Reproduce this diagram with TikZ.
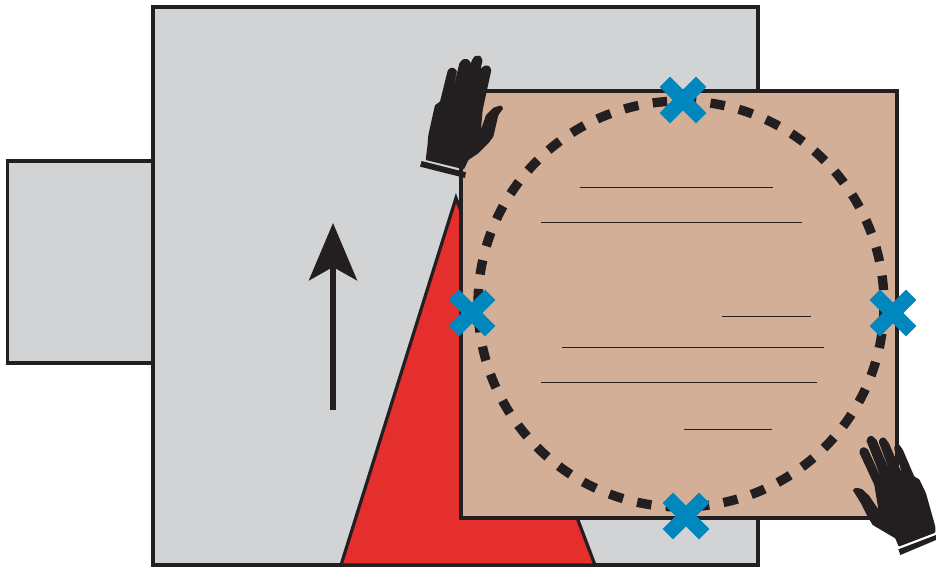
\documentclass[tikz,border=0pt]{standalone}
\usepackage{tikz}
\usetikzlibrary{arrows.meta}
\definecolor{plategray}{RGB}{209,211,212}
\definecolor{sheettan}{RGB}{211,175,151}
\definecolor{bladered}{RGB}{228,47,44}
\definecolor{inkblack}{RGB}{35,31,32}
\definecolor{markblue}{RGB}{0,135,189}
\tikzset{
    plate/.style={draw=inkblack, fill=plategray, line width=2.4pt},
    sheet/.style={draw=inkblack, fill=sheettan, line width=2.4pt},
    blade/.style={draw=inkblack, fill=bladered, line width=2.4pt, miter limit=10},
    feed/.style={-{Stealth[length=43pt, width=36pt, inset=10pt]}, line width=4.2pt, draw=inkblack},
    cutcircle/.style={draw=inkblack, line width=7pt, dash pattern=on 10.9pt off 10.84pt, dash phase=21.18pt},
    textline/.style={draw=inkblack, line width=0.75pt},
    markcross/.style={draw=markblue, line width=11pt},
    glove/.style={fill=inkblack, rounded corners=0.7pt}
}
\begin{document}
\begin{tikzpicture}[x=0.75pt, y=-0.75pt]
    \useasboundingbox (0,0) rectangle (936,567);
    % plates
    \draw[plate] (7.5,161) rectangle (153,363);
    \draw[plate] (153,7) rectangle (758,565);
    \draw[blade] (341,565) -- (456,198) -- (595,565) -- cycle;
    % feed direction
    \coordinate (feedstart) at (333,410);
    \coordinate (feedend) at (333,223);
    \draw[feed] (feedstart) -- (feedend);
    % sheet on top
    \draw[sheet] (461,91) rectangle (897,518);
    \draw[cutcircle] (681,304) circle (203);
    \foreach \xa/\xb/\ya in {580/773/187, 541/802/222, 722/811/316, 562/824/347, 541/817/382, 684/772/429}
      \draw[textline] (\xa,\ya) -- (\xb,\ya);
    % crosses
    \foreach \cx/\cy in {683/100, 472/313, 893/313, 686/516} {
      \draw[markcross] (\cx-18.2,\cy-18.2) -- (\cx+18.2,\cy+18.2);
      \draw[markcross] (\cx-18.2,\cy+18.2) -- (\cx+18.2,\cy-18.2);
    }
    % left hand
    \begin{scope}[shift={(400,40)}, scale=1/3]
      \fill[glove] (77,360) -- (82,320) -- (85,285) -- (105,195) -- (120,185) -- (143,92) -- (150,84) -- (160,83) -- (171,92)
        -- (152,180) -- (178,70) -- (188,58) -- (203,57) -- (213,68) -- (190,165) -- (215,62) -- (224,48) -- (240,47) -- (248,60)
        -- (220,185) -- (243,85) -- (255,76) -- (268,78) -- (274,90) -- (248,210) -- (243,268) -- (258,225) -- (280,203)
        -- (303,196) -- (310,205) -- (295,225) -- (280,290) -- (265,310) -- (235,340) -- (205,360) -- (192,388) -- cycle;
      \fill[inkblack] (65,363) -- (198,397) -- (195,414) -- (60,380) -- cycle;
    \end{scope}
    % right hand
    \begin{scope}[shift={(836,420)}, scale=1/3]
      \fill[glove] (50,210) -- (60,203) -- (78,207) -- (100,228) -- (127,268) -- (115,195) -- (70,98) -- (72,87) -- (83,81) -- (96,88)
        -- (140,185) -- (91,62) -- (97,50) -- (108,47) -- (122,60) -- (168,172) -- (128,65) -- (134,54) -- (145,52) -- (158,68)
        -- (200,165) -- (174,85) -- (178,75) -- (188,72) -- (200,88) -- (235,170) -- (250,178) -- (270,220) -- (298,320)
        -- (298,338) -- (188,380) -- (178,355) -- (110,315) -- (95,290) -- (75,250) -- cycle;
      \fill[inkblack] (187,388) -- (300,345) -- (300,360) -- (193,405) -- cycle;
    \end{scope}
\end{tikzpicture}
\end{document}
